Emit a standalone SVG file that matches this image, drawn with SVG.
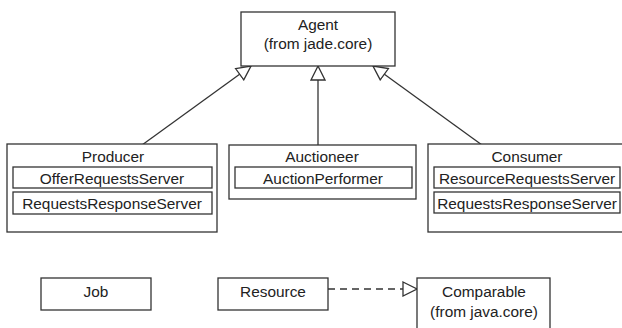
<svg xmlns="http://www.w3.org/2000/svg" width="622" height="328" viewBox="0 0 622 328">
<style>
.box{fill:#fff;stroke:#333;stroke-width:1.3}
.t{font-family:"Liberation Sans",Arial,sans-serif;font-size:15.4px;fill:#222;text-anchor:middle}
.edge{fill:none;stroke:#333;stroke-width:1.3}
.dash{stroke-dasharray:7,5}
</style>
<defs>
<marker id="tri" viewBox="0 0 16 16" refX="15" refY="8" markerWidth="16" markerHeight="16" markerUnits="userSpaceOnUse" orient="auto">
<path d="M1,1 L15,8 L1,15 Z" fill="#fff" stroke="#333" stroke-width="1.3"/>
</marker>
</defs>
<rect width="622" height="328" fill="#fff"/>
<g id="connectors">
<line class="edge" x1="142" y1="145" x2="251" y2="66" marker-end="url(#tri)"/>
<line class="edge" x1="318" y1="145" x2="318" y2="66" marker-end="url(#tri)"/>
<line class="edge" x1="482" y1="145" x2="373" y2="66" marker-end="url(#tri)"/>
<line class="edge dash" x1="328" y1="289" x2="417" y2="289" marker-end="url(#tri)"/>
</g>
<g id="agent">
<rect class="box" x="241" y="12" width="154" height="54"/>
<text class="t" x="318" y="30">Agent</text>
<text class="t" x="318" y="49">(from jade.core)</text>
</g>
<g id="producer">
<rect class="box" x="7" y="144" width="210" height="88"/>
<text class="t" x="113" y="162">Producer</text>
<rect class="box" x="13" y="167" width="199" height="21"/>
<text class="t" x="112" y="184">OfferRequestsServer</text>
<rect class="box" x="13" y="192" width="199" height="22"/>
<text class="t" x="112" y="209">RequestsResponseServer</text>
</g>
<g id="auctioneer">
<rect class="box" x="229" y="145" width="187" height="54"/>
<text class="t" x="322" y="162">Auctioneer</text>
<rect class="box" x="235" y="167" width="177" height="21"/>
<text class="t" x="323" y="184">AuctionPerformer</text>
</g>
<g id="consumer">
<rect class="box" x="428" y="144" width="200" height="88"/>
<text class="t" x="527" y="162">Consumer</text>
<rect class="box" x="434" y="167" width="186" height="21"/>
<text class="t" x="527" y="184">ResourceRequestsServer</text>
<rect class="box" x="434" y="192" width="186" height="21"/>
<text class="t" x="527" y="209">RequestsResponseServer</text>
</g>
<g id="job">
<rect class="box" x="41" y="278" width="110" height="32"/>
<text class="t" x="96" y="297">Job</text>
</g>
<g id="resource">
<rect class="box" x="218" y="278" width="110" height="32"/>
<text class="t" x="273" y="297">Resource</text>
</g>
<g id="comparable">
<rect class="box" x="417" y="278" width="133" height="60"/>
<text class="t" x="484" y="297">Comparable</text>
<text class="t" x="484" y="317">(from java.core)</text>
</g>
</svg>
